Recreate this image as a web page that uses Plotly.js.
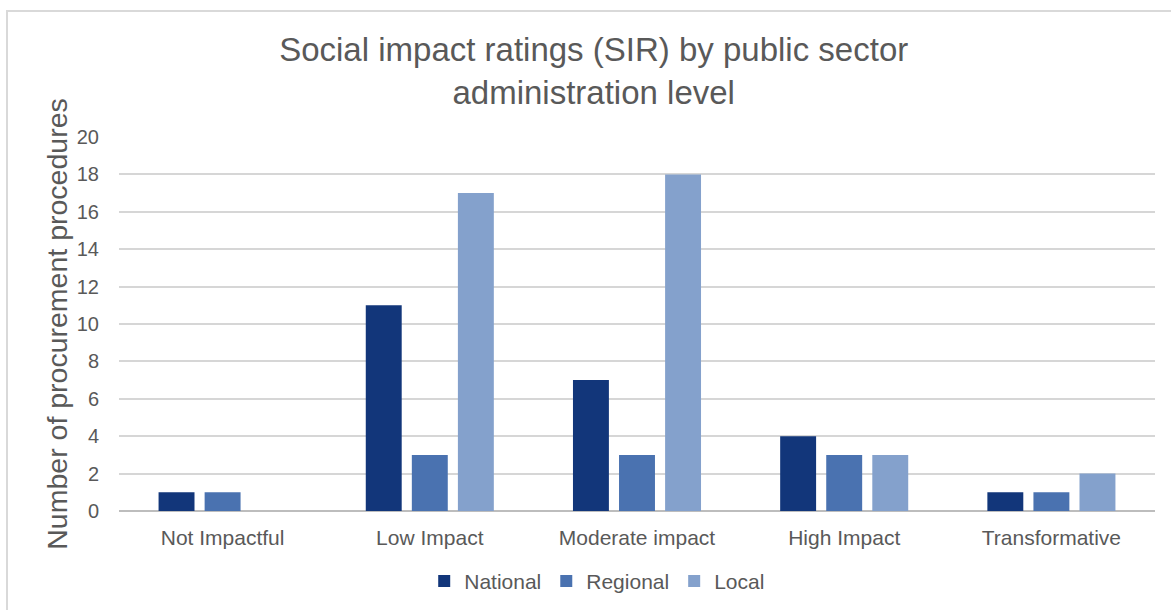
<!DOCTYPE html>
<html>
<head>
<meta charset="utf-8">
<script src="https://cdn.plot.ly/plotly-3.0.1.min.js"></script>
<style>
html,body{margin:0;padding:0;background:#fff;}
#wrap{position:relative;width:1171px;height:610px;overflow:hidden;}
#frame{position:absolute;left:6px;top:10px;width:1200px;height:700px;border:2px solid #d9d9d9;box-sizing:border-box;pointer-events:none;z-index:5;}
#chart{position:absolute;left:0;top:0;width:1171px;height:610px;}
</style>
</head>
<body>
<div id="wrap"><div id="chart"></div><div id="frame"></div></div>
<script>
const categories = ["Not Impactful", "Low Impact", "Moderate impact", "High Impact", "Transformative"];
const national = [1, 11, 7, 4, 1];
const regional = [1, 3, 3, 3, 1];
const local = [0, 17, 18, 3, 2];
const seriesNames = ["National", "Regional", "Local"];
const colors = ["#12367a", "#4a72b0", "#84a1cc"];
const yTicks = [0, 2, 4, 6, 8, 10, 12, 14, 16, 18, 20];

const font = "Liberation Sans, Arial, sans-serif";
const grey = "#595959";

const traces = [national, regional, local].map((vals, i) => ({
  type: "bar",
  name: seriesNames[i],
  x: categories,
  y: vals,
  marker: {color: colors[i], line: {width: 0}},
  hoverinfo: "x+y+name"
}));

const layout = {
  width: 1171,
  height: 610,
  paper_bgcolor: "#ffffff",
  plot_bgcolor: "#ffffff",
  margin: {l: 119, r: 16, t: 137, b: 99},
  barmode: "group",
  bargap: 0.333,
  bargroupgap: 0.22,
  font: {family: font, color: grey},
  title: {
    text: "Social impact ratings (SIR) by public sector<br>administration level",
    font: {family: font, size: 33, color: grey},
    xref: "container", x: 0.507, xanchor: "center",
    yref: "container", y: 0.9, yanchor: "middle"
  },
  xaxis: {
    type: "category",
    tickfont: {family: font, size: 21, color: grey},
    showgrid: false,
    showline: false,
    ticks: "",
    zeroline: false,
    ticklabelstandoff: 12
  },
  yaxis: {
    range: [0, 20],
    tickvals: yTicks,
    ticktext: yTicks.map(String),
    tickfont: {family: font, size: 20, color: grey},
    showgrid: true,
    gridcolor: "#d6d6d6",
    gridwidth: 2,
    zeroline: true,
    zerolinecolor: "#bdbdbd",
    zerolinewidth: 2,
    showline: false,
    ticks: "",
    ticklabelstandoff: 19,
    title: {
      text: "Number of procurement procedures",
      font: {family: font, size: 28.5, color: grey},
      standoff: 0
    }
  },
  legend: {
    orientation: "h",
    xref: "container", x: 0.51, xanchor: "center",
    yref: "container", y: 0.047, yanchor: "middle",
    font: {family: font, size: 21, color: grey},
    itemwidth: 30,
    traceorder: "normal"
  },
  showlegend: true
};

Plotly.newPlot("chart", traces, layout, {displayModeBar: false, staticPlot: true});
</script>
</body>
</html>
